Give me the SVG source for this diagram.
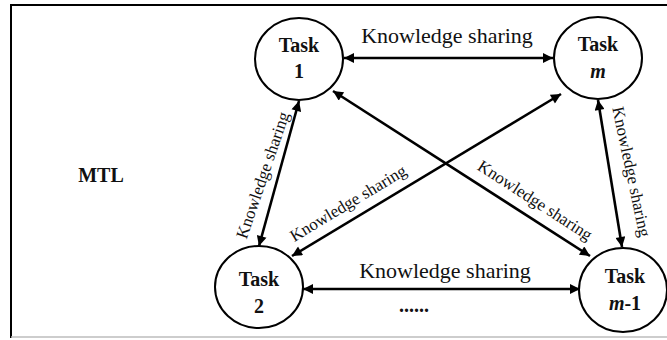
<svg xmlns="http://www.w3.org/2000/svg" width="667" height="340" viewBox="0 0 667 340">
<style>
  .node { fill: #fff; stroke: #000; stroke-width: 2; }
  .tt { font-family: "Liberation Serif", "Times New Roman", serif; font-weight: bold; font-size: 20px; text-anchor: middle; fill: #111; }
  .it { font-style: italic; }
  .lbl { font-family: "Liberation Serif", "Times New Roman", serif; font-size: 22px; text-anchor: middle; fill: #111; }
  .rl { font-family: "Liberation Serif", "Times New Roman", serif; font-size: 17px; text-anchor: middle; fill: #111; }
  .edge { stroke: #000; stroke-width: 2.6; fill: none; marker-start: url(#ah); marker-end: url(#ah); }
</style>
<defs>
  <marker id="ah" viewBox="0 0 10 10" refX="10" refY="5" markerWidth="11" markerHeight="10" markerUnits="userSpaceOnUse" orient="auto-start-reverse">
    <path d="M0,0 L10,5 L0,10 z" fill="#000"/>
  </marker>
</defs>
<rect width="667" height="340" fill="#fff"/>
<g id="frame">
  <path d="M11,338 L11,5 L667,5" fill="none" stroke="#000" stroke-width="2"/>
  <line x1="11" y1="337" x2="667" y2="337" stroke="#bdbdbd" stroke-width="1.5"/>
</g>
<g id="mtl"><text class="tt" x="101" y="182">MTL</text></g>
<g id="connectors">
  <line class="edge" x1="344" y1="58" x2="553" y2="58"/>
  <line class="edge" x1="303" y1="289" x2="580" y2="289"/>
  <line class="edge" x1="299" y1="101" x2="259" y2="246"/>
  <line class="edge" x1="598" y1="100" x2="622" y2="247"/>
  <line class="edge" x1="333" y1="91" x2="590" y2="256"/>
  <line class="edge" x1="292" y1="256" x2="561" y2="94"/>
  <text class="lbl" x="447" y="43">Knowledge sharing</text>
  <text class="lbl" x="445" y="278">Knowledge sharing</text>
  <text class="tt" x="414" y="312">......</text>
  <text class="rl" transform="translate(268,177) rotate(-71)">Knowledge sharing</text>
  <text class="rl" transform="translate(626,173) rotate(78)">Knowledge sharing</text>
  <text class="rl" transform="translate(532,205) rotate(33)">Knowledge sharing</text>
  <text class="rl" transform="translate(351,208) rotate(-31)">Knowledge sharing</text>
</g>
<g id="task1">
  <ellipse class="node" cx="299" cy="59" rx="44" ry="41"/>
  <text class="tt" x="299" y="52">Task</text>
  <text class="tt" x="299" y="78">1</text>
</g>
<g id="taskm">
  <ellipse class="node" cx="598" cy="58" rx="44" ry="41"/>
  <text class="tt" x="598" y="51">Task</text>
  <text class="tt it" x="598" y="78">m</text>
</g>
<g id="task2">
  <ellipse class="node" cx="259" cy="287" rx="44" ry="41"/>
  <text class="tt" x="259" y="286">Task</text>
  <text class="tt" x="259" y="313">2</text>
</g>
<g id="taskm1">
  <ellipse class="node" cx="623" cy="290" rx="44" ry="42"/>
  <text class="tt" x="625" y="283">Task</text>
  <text class="tt" x="625" y="310"><tspan class="it">m</tspan>-1</text>
</g>
</svg>
